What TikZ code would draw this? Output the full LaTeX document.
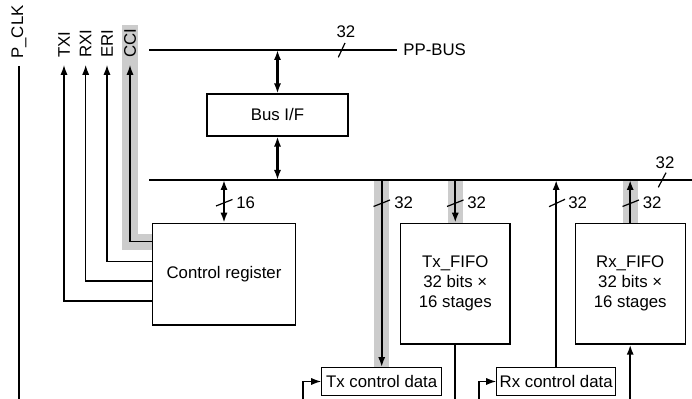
\documentclass[tikz,border=0pt]{standalone}
\usepackage{fontspec}
\setmainfont{Liberation Sans}
\usepackage{xcolor}
\usetikzlibrary{arrows.meta}
\tikzset{x=0.5pt, y=-0.5pt,
  every node/.style={font=\fontsize{8.4}{10}\selectfont},
  blk/.style={draw, line width=0.6pt, inner sep=0pt, align=center},
  wire/.style={line width=0.6pt},
  sig/.style={line width=0.6pt, -{Latex[length=5pt,width=3.6pt]}},
  dat/.style={line width=1.1pt, -{Latex[length=5pt,width=3.6pt]}},
  both/.style={line width=1.1pt, {Latex[length=5pt,width=3.6pt]}-{Latex[length=5pt,width=3.6pt]}},
  band/.style={line width=7.5pt, draw=bandgray},
  vlabel/.style={rotate=90, anchor=west, inner sep=3.5pt},
  wlabel/.style={anchor=west, inner sep=1.5pt}}
\newcommand{\unitbox}[4]{node[blk, minimum width=#3, minimum height=#4](#1) {#2}}
\definecolor{bandgray}{HTML}{CCCCCC}

\begin{document}
\begin{tikzpicture}
\useasboundingbox (0,0) rectangle (692,399);
\coordinate (ppl) at (149,50) ;
\coordinate (busl) at (149,180) ;
\coordinate (busr) at (692,180) ;
\coordinate (bot) at (0,399) ;
\coordinate (ytxi) at (0,301) ;
\coordinate (yrxi) at (0,281) ;
\coordinate (yeri) at (0,261.7) ;
\coordinate (ycci) at (0,241.7) ;
\coordinate (bandtop) at (130,25) ;
\coordinate (txin) at (303,399) ;
\coordinate (rxin) at (479,399) ;

% blocks
\draw (277.5,115) \unitbox{busif}{Bus I/F}{70.5pt}{21pt} ;
\draw (224,274.2) \unitbox{creg}{Control register}{71.3pt}{50.9pt} ;
\draw (455.3,283.7) \unitbox{txfifo}{Tx\_FIFO\\32 bits ×\\16 stages}{54.7pt}{60.4pt} ;
\draw (630.2,283.7) \unitbox{rxfifo}{Rx\_FIFO\\32 bits ×\\16 stages}{54.9pt}{60.4pt} ;
\draw (381.7,381.5) \unitbox{txcd}{Tx control data}{60pt}{13.8pt} ;
\draw (556.2,381.5) \unitbox{rxcd}{Rx control data}{59.5pt}{13.8pt} ;

% grey bands
\draw[band, line width=8pt] (creg.west |- ycci) -| (bandtop) ;
\draw[band] (txcd.north |- busl) -- (txcd.north) ;
\draw[band] (txfifo.north |- busl) -- (txfifo.north) ;
\draw[band] (rxfifo.north |- busl) -- (rxfifo.north) ;

% signal names
\draw (19,66) node[vlabel](pclk) {P\_CLK} ;
\draw (64,65) node[vlabel](txi) {TXI} ;
\draw (85.7,65) node[vlabel](rxi) {RXI} ;
\draw (107,65) node[vlabel](eri) {ERI} ;
\draw (130,65) node[vlabel](cci) {CCI} ;

\draw[wire] (pclk.west) -- (pclk.west |- bot) ;
\draw[sig] (creg.west |- ytxi) -| (txi.west) ;
\draw[sig] (creg.west |- yrxi) -| (rxi.west) ;
\draw[sig] (creg.west |- yeri) -| (eri.west) ;
\draw[sig] (creg.west |- ycci) -| (cci.west) ;

% PP-BUS and internal bus
\draw (397,50) node[anchor=west, inner sep=3pt](ppbus) {PP-BUS} ;
\draw[wire] (ppl) -- (ppbus.west) ;
\draw[both] (busif.north |- ppl) -- (busif.north) ;
\draw[both] (busif.south) -- (busif.south |- busl) ;
\draw[wire] (busl) -- (busr) ;
\draw[both] (creg.north |- busl) -- (creg.north) ;
\draw[dat] (txcd.north |- busl) -- (txcd.north) ;
\draw[dat] (txfifo.north |- busl) -- (txfifo.north) ;
\draw[dat] (rxcd.north) -- (rxcd.north |- busl) ;
\draw[dat] (rxfifo.north) -- (rxfifo.north |- busl) ;
\draw[line width=1.1pt] (txfifo.south) -- (txfifo.south |- bot) ;
\draw[dat] (rxfifo.south |- bot) -- (rxfifo.south) ;
\draw[sig] (txin) |- (txcd.west) ;
\draw[sig] (rxin) |- (rxcd.west) ;

% bus widths
\draw[wire] (338.3,57.3) -- (345,43) ;
\draw (346,32) node(ppw) {32} ;
\draw[wire] (658.3,187.3) -- (666,172.7) ;
\draw (665,163) node(busw) {32} ;
\draw[wire] (216,206) -- (232.5,199.5) ;
\draw (233,203) node[wlabel](cregw) {16} ;
\draw[wire] (373.5,206.5) -- (390,200) ;
\draw (391,203) node[wlabel](txcdw) {32} ;
\draw[wire] (447,206.5) -- (463.5,200) ;
\draw (464,203) node[wlabel](txfifow) {32} ;
\draw[wire] (549,206.7) -- (565,199.3) ;
\draw (565,203) node[wlabel](rxcdw) {32} ;
\draw[wire] (622.5,206.5) -- (639,200) ;
\draw (639.5,203) node[wlabel](rxfifow) {32} ;
\end{tikzpicture}
\end{document}
